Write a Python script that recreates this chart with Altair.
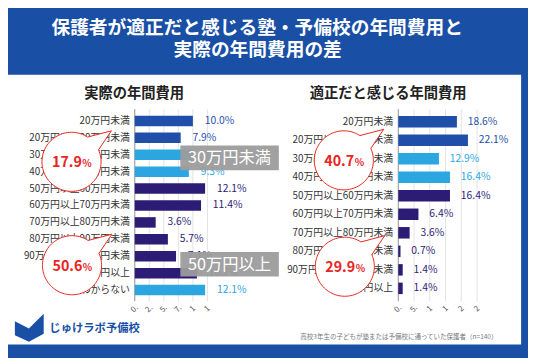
import altair as alt
import numpy as np
import pandas as pd

FONT = "Noto Sans CJK JP"
BLUE = "#1a4fa6"
RED = "#e8251f"

# ---------------- data ----------------
categories = ["20万円未満", "20万円以上30万円未満", "30万円以上40万円未満", "40万円以上50万円未満",
              "50万円以上60万円未満", "60万円以上70万円未満", "70万円以上80万円未満",
              "80万円以上90万円未満", "90万円以上100万円未満", "100万円以上", "わからない"]
actual_values = [10.0, 7.9, 10.0, 9.3, 12.1, 11.4, 3.6, 5.7, 7.1, 10.7, 12.1]
actual_groups = ["under30", "under30", "30to50", "30to50", "over50", "over50", "over50",
                 "over50", "over50", "over50", "unknown"]

fair_categories = categories[:10]
fair_values = [18.6, 22.1, 12.9, 16.4, 16.4, 6.4, 3.6, 0.7, 1.4, 1.4]
fair_groups = actual_groups[:10]

actual_ticks = [0, 2.5, 5, 7.5, 10, 12.5]
actual_tick_labels = ["0.", "2.", "5.", "7.", "1", "1"]
fair_ticks = [0, 5, 10, 15, 20, 25]
fair_tick_labels = ["0.", "5.", "1", "1", "2", "2"]

group_names = ["under30", "30to50", "over50", "unknown"]
group_colors = ["#1f4fa8", "#2ca6e0", "#2d1c76", "#2ca6e0"]

title_lines = ["保護者が適正だと感じる塾・予備校の年間費用と", "実際の年間費用の差"]
left_title = "実際の年間費用"
right_title = "適正だと感じる年間費用"
box_labels = ["30万円未満", "50万円以上"]
footnote = "高校3年生の子どもが塾または予備校に通っていた保護者（n=140）"
logo_text = "じゅけラボ予備校"

actual_under30 = round(sum(actual_values[:2]), 1)
actual_over50 = round(sum(actual_values[4:10]), 1)
fair_under30 = round(sum(fair_values[:2]), 1)
fair_over50 = round(sum(fair_values[4:10]), 1)

one = pd.DataFrame({"k": [0]})


def text_at(s, x, y, **kw):
    return alt.Chart(pd.DataFrame({"s": [s]})).mark_text(font=FONT, **kw).encode(
        x=alt.value(x), y=alt.value(y), text="s:N")


def rect(x1, x2, y1, y2, color, **kw):
    return alt.Chart(one).mark_rect(color=color, **kw).encode(
        x=alt.value(x1), x2=alt.value(x2), y=alt.value(y1), y2=alt.value(y2))


def panel(cats, vals, groups, ticks, tick_labels, xdom, xrange, yrange, label_x, dx):
    df = pd.DataFrame({"cat": cats, "v": vals, "g": groups,
                       "lab": [f"{v:.1f}%" for v in vals]})
    tdf = pd.DataFrame({"t": ticks, "tl": tick_labels})
    xs = alt.Scale(domain=xdom, range=xrange, nice=False, zero=True)
    X = alt.X("v:Q", scale=xs, axis=None)
    Xt = alt.X("t:Q", scale=xs, axis=None)
    Y = alt.Y("cat:N", sort=cats, axis=None,
              scale=alt.Scale(range=yrange, paddingInner=0.38, paddingOuter=0.19))
    C = alt.Color("g:N", scale=alt.Scale(domain=group_names, range=group_colors), legend=None)
    grid = alt.Chart(tdf).mark_rule(color="#e3e3e3", strokeWidth=1).encode(
        x=Xt, y=alt.value(100), y2=alt.value(295))
    axis_line = alt.Chart(tdf.iloc[:1]).mark_rule(color="#9a9a9a", strokeWidth=1).encode(
        x=Xt, y=alt.value(100), y2=alt.value(295))
    bars = alt.Chart(df).mark_bar().encode(x=X, y=Y, color=C)
    vlab = alt.Chart(df).mark_text(align="left", baseline="middle", dx=dx, fontSize=10.5,
                                   font=FONT).encode(x=X, y=Y, text="lab:N", color=C)
    clab = alt.Chart(df).mark_text(align="right", baseline="middle", fontSize=10, font=FONT,
                                   color="#333333").encode(x=alt.value(label_x), y=Y, text="cat:N")
    tlab = alt.Chart(tdf).mark_text(angle=315, align="center", baseline="middle", fontSize=8,
                                    font=FONT, color="#555555").encode(
        x=Xt, y=alt.value(303), text="tl:N")
    return alt.layer(grid, axis_line, bars, vlab, clab, tlab)


# bubble shape (circle + tail), unit coordinates
angles = np.radians(np.linspace(-24, 303, 90))
pts = [f"{0.6 * np.cos(a):.4f},{0.6 * np.sin(a):.4f}" for a in angles]
BUBBLE = "M" + " L".join(pts) + " L0.81,-0.63 Z"

BOOK = "M-1,-0.45 L-0.05,0.05 L0.95,-0.95 L0.95,0.4 L-0.05,0.95 L-1,0.5 Z"


def callout(cx, cy, pct):
    bubble = alt.Chart(one).mark_point(shape=BUBBLE, size=10000, filled=True, fill="white",
                                       stroke=RED, strokeWidth=1, opacity=1).encode(
        x=alt.value(cx), y=alt.value(cy))
    num = text_at(f"{pct:.1f}", cx + 10.5, cy + 5.5, align="right", baseline="alphabetic",
                  fontSize=14.5, fontWeight="bold", color=RED)
    pc = text_at("%", cx + 11, cy + 5.5, align="left", baseline="alphabetic",
                 fontSize=10, fontWeight="bold", color=RED)
    return [bubble, num, pc]


layers = [
    rect(0, 521, 65, 339, "white"),
    text_at(title_lines[0], 253, 18, align="center", baseline="middle", fontSize=19,
            fontWeight="bold", color="white"),
    text_at(title_lines[1], 253.5, 40.5, align="center", baseline="middle", fontSize=19,
            fontWeight="bold", color="white"),
    text_at(left_title, 128, 84.5, align="center", baseline="middle", fontSize=14.5,
            fontWeight="bold", color="#222222"),
    text_at(right_title, 386, 84.5, align="center", baseline="middle", fontSize=14.5,
            fontWeight="bold", color="#222222"),
    panel(categories, actual_values, actual_groups, actual_ticks, actual_tick_labels,
          [0, 12.5], [128.7, 202.5], [103.4, 292.3], 123.7, 12),
    panel(fair_categories, fair_values, fair_groups, fair_ticks, fair_tick_labels,
          [0, 25], [396.3, 476.3], [103.3, 291.4], 391, 11),
    rect(175, 275, 137, 162, "#9c9c9c", opacity=0.95),
    text_at(box_labels[0], 225, 150, align="center", baseline="middle", fontSize=16.5,
            color="white"),
    rect(175, 275, 245, 270, "#9c9c9c", opacity=0.95),
    text_at(box_labels[1], 225, 258, align="center", baseline="middle", fontSize=16.5,
            color="white"),
]
layers += callout(64.5, 153.5, actual_under30)
layers += callout(65, 258.5, actual_over50)
layers += callout(341, 152, fair_under30)
layers += callout(342, 260, fair_over50)
layers += [
    alt.Chart(one).mark_point(shape=BOOK, size=900, filled=True, fill=BLUE, opacity=1,
                              strokeWidth=0).encode(x=alt.value(22), y=alt.value(322)),
    text_at(logo_text, 42, 323, align="left", baseline="middle", fontSize=11.5,
            fontWeight="bold", color=BLUE),
    text_at(footnote, 497, 331, align="right", baseline="middle", fontSize=6.6,
            color="#777777"),
]

chart = alt.layer(*layers).resolve_scale(
    x="independent", y="independent"
).properties(
    width=528, height=350, padding=0,
    autosize=alt.AutoSizeParams(type="none"),
    background=BLUE,
).configure_view(stroke=None)

chart.save("out.html", embed_options={"renderer": "svg", "actions": False})
